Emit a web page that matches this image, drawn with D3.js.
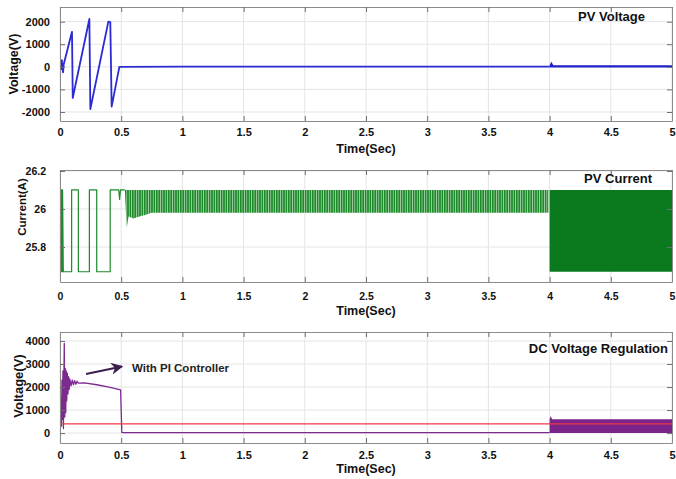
<!DOCTYPE html>
<html>
<head>
<meta charset="utf-8">
<script src="https://cdn.jsdelivr.net/npm/d3@7"></script>
<style>
  body { margin: 0; background: #fff; }
  svg { font-family: "Liberation Sans", Arial, sans-serif; font-weight: bold; }
</style>
</head>
<body>
<div id="chart"></div>
<script>
// shared time axis
var timeTicks = [0, 0.5, 1, 1.5, 2, 2.5, 3, 3.5, 4, 4.5, 5];

// PV voltage
var pvVoltTicks = [-2000, -1000, 0, 1000, 2000];
var pvVoltTime  = [0, 0.005, 0.01, 0.015, 0.02, 0.025, 0.03, 0.098, 0.104, 0.24, 0.248, 0.395, 0.411, 0.422, 0.485, 1.0, 2.0, 3.0, 4.0];
var pvVoltValue = [0, 150, -100, 300, -50, -250, 100, 1550, -1380, 2120, -1870, 2000, 1980, -1760, 0, 10, 10, 10, 10];
var pvVoltBandTime = [4.0, 4.015, 4.03, 5.0];
var pvVoltBandLow  = [-30, -30, -30, -30];
var pvVoltBandHigh = [70, 220, 70, 70];

// PV current
var pvCurrTicks = [25.8, 26, 26.2];
var pvCurrTime  = [0, 0.003, 0.006, 0.01, 0.013, 0.018, 0.021, 0.027, 0.095, 0.095, 0.15, 0.15, 0.24, 0.24, 0.30, 0.30, 0.41, 0.41, 0.48, 0.487, 0.494, 0.53];
var pvCurrValue = [26.1, 25.67, 26.1, 25.67, 26.1, 25.67, 26.1, 25.67, 25.67, 26.1, 26.1, 25.67, 25.67, 26.1, 26.1, 25.67, 25.67, 26.1, 26.1, 26.05, 26.1, 26.1];
var pvCurrBandTime = [0.53, 0.545, 0.56, 0.6, 0.65, 0.7, 0.75, 3.99];
var pvCurrBandLow  = [26.1, 25.9, 25.96, 25.95, 25.96, 25.97, 25.98, 25.98];
var pvCurrBandHigh = [26.1, 26.1, 26.1, 26.1, 26.1, 26.1, 26.1, 26.1];
var pvCurrBlockTime = [4.0, 5.0];
var pvCurrBlockLow  = [25.67, 25.67];
var pvCurrBlockHigh = [26.1, 26.1];

// DC link voltage
var dcVoltTicks = [0, 1000, 2000, 3000, 4000];
var dcTime  = [0, 0.004, 0.008, 0.012, 0.016, 0.02, 0.024, 0.028, 0.032, 0.035, 0.039, 0.043, 0.047, 0.051, 0.055, 0.06, 0.065, 0.07, 0.075, 0.08, 0.09, 0.1, 0.11, 0.12, 0.13, 0.14, 0.15, 0.2, 0.3, 0.4, 0.495, 0.505, 0.52, 4.0];
var dcValue = [0, 400, 1500, 300, 2300, 600, 2700, 200, 2500, 3900, 700, 2800, 900, 2700, 1400, 2600, 1700, 2450, 1900, 2350, 2050, 2300, 2100, 2280, 2120, 2250, 2170, 2180, 2100, 2000, 1880, 30, 20, 20];
var dcBandTime = [4.0, 4.01, 4.02, 5.0];
var dcBandLow  = [0, 0, 0, 0];
var dcBandHigh = [600, 740, 600, 600];
var dcRefTime  = [0, 5];
var dcRefValue = [400, 400];

var width = 676;
var height = 479;
var left = 60;
var right = 672;

var svg = d3.select("#chart")
    .append("svg")
    .attr("width", width)
    .attr("height", height);

var defs = svg.append("defs");

// vertical hatching for the dense ripple region
var hatch = defs.append("pattern")
    .attr("id", "hatch")
    .attr("patternUnits", "userSpaceOnUse")
    .attr("width", 2.4)
    .attr("height", 10);
hatch.append("rect").attr("width", 2.4).attr("height", 10).attr("fill", "#a8d4a8");
hatch.append("rect").attr("width", 1.6).attr("height", 10).attr("fill", "#1d8a2c");

var x = d3.scaleLinear().domain([0, 5]).range([left, right]);

function zip(t, v) {
    return t.map(function (d, i) { return [d, v[i]]; });
}
function zip3(t, lo, hi) {
    return t.map(function (d, i) { return [d, lo[i], hi[i]]; });
}

function drawPanel(p) {
    var y = d3.scaleLinear().domain(p.domain).range([p.bottom, p.top]);
    var g = svg.append("g");

    defs.append("clipPath").attr("id", "clip" + p.id)
        .append("rect")
        .attr("x", left).attr("y", p.top)
        .attr("width", right - left).attr("height", p.bottom - p.top);

    // grid
    g.selectAll(".vgrid").data(timeTicks).enter().append("line")
        .attr("x1", x).attr("x2", x)
        .attr("y1", p.top).attr("y2", p.bottom)
        .attr("stroke", "#e4e4e4").attr("stroke-width", 1);
    g.selectAll(".hgrid").data(p.ticks).enter().append("line")
        .attr("x1", left).attr("x2", right)
        .attr("y1", y).attr("y2", y)
        .attr("stroke", "#e4e4e4").attr("stroke-width", 1);

    var plot = g.append("g").attr("clip-path", "url(#clip" + p.id + ")");
    p.draw(plot, y);

    // axes with inward ticks (box style)
    var fmt = function (d) { return String(d); };
    var xb = g.append("g")
        .attr("transform", "translate(0," + p.bottom + ")")
        .call(d3.axisBottom(x).tickValues(timeTicks).tickFormat(fmt)
            .tickSizeInner(-5).tickSizeOuter(0).tickPadding(p.xPad));
    var xt = g.append("g")
        .attr("transform", "translate(0," + p.top + ")")
        .call(d3.axisTop(x).tickValues(timeTicks).tickFormat("")
            .tickSizeInner(-5).tickSizeOuter(0));
    var yl = g.append("g")
        .attr("transform", "translate(" + left + ",0)")
        .call(d3.axisLeft(y).tickValues(p.ticks).tickFormat(fmt)
            .tickSizeInner(-5).tickSizeOuter(0).tickPadding(p.yPad));
    var yr = g.append("g")
        .attr("transform", "translate(" + right + ",0)")
        .call(d3.axisRight(y).tickValues(p.ticks).tickFormat("")
            .tickSizeInner(-5).tickSizeOuter(0));
    [xb, xt, yl, yr].forEach(function (a) {
        a.select(".domain").attr("stroke", "#8c8c8c");
        a.selectAll(".tick line").attr("stroke", "#6e6e6e");
        a.selectAll("text")
            .attr("fill", "#111")
            .style("font-size", p.tickFont + "px")
            .style("font-family", "'Liberation Sans', Arial, sans-serif")
            .style("font-weight", "bold");
    });

    // labels
    g.append("text")
        .attr("x", (left + right) / 2)
        .attr("y", p.timeY)
        .attr("text-anchor", "middle")
        .style("font-size", "12.5px")
        .attr("fill", "#111")
        .text("Time(Sec)");

    g.append("text")
        .attr("transform", "translate(" + p.labelX + "," + p.labelY + ") rotate(-90)")
        .attr("text-anchor", "middle")
        .style("font-size", p.labelFont + "px")
        .attr("fill", "#111")
        .text(p.label);

    g.append("text")
        .attr("x", p.titleX)
        .attr("y", p.titleY)
        .attr("text-anchor", "end")
        .style("font-size", "13px")
        .attr("fill", "#111")
        .text(p.title);
}

function band(plot, y, rows, fill) {
    plot.append("path")
        .datum(rows)
        .attr("fill", fill)
        .attr("d", d3.area()
            .x(function (d) { return x(d[0]); })
            .y0(function (d) { return y(d[1]); })
            .y1(function (d) { return y(d[2]); }));
}
function trace(plot, y, rows, color, w) {
    plot.append("path")
        .datum(rows)
        .attr("fill", "none")
        .attr("stroke", color)
        .attr("stroke-width", w)
        .attr("stroke-linejoin", "round")
        .attr("d", d3.line()
            .x(function (d) { return x(d[0]); })
            .y(function (d) { return y(d[1]); }));
}

drawPanel({
    id: 1, top: 7, bottom: 121, domain: [-2400, 2650], ticks: pvVoltTicks,
    xPad: 7.5, yPad: 10, tickFont: 11, timeY: 153,
    label: "Voltage(V)", labelX: 18, labelY: 64, labelFont: 12.5,
    title: "PV Voltage", titleX: 645, titleY: 21,
    draw: function (plot, y) {
        trace(plot, y, zip(pvVoltTime, pvVoltValue), "#2b2bd4", 1.8);
        band(plot, y, zip3(pvVoltBandTime, pvVoltBandLow, pvVoltBandHigh), "#2020c8");
    }
});

drawPanel({
    id: 2, top: 170, bottom: 282, domain: [25.616, 26.205], ticks: pvCurrTicks,
    xPad: 11, yPad: 14, tickFont: 10.5, timeY: 315,
    label: "Current(A)", labelX: 26, labelY: 207, labelFont: 11.5,
    title: "PV Current", titleX: 652, titleY: 183,
    draw: function (plot, y) {
        trace(plot, y, zip(pvCurrTime, pvCurrValue), "#1d8a2c", 1.2);
        band(plot, y, zip3(pvCurrBandTime, pvCurrBandLow, pvCurrBandHigh), "url(#hatch)");
        band(plot, y, zip3(pvCurrBlockTime, pvCurrBlockLow, pvCurrBlockHigh), "#0b7a1f");
    }
});

drawPanel({
    id: 3, top: 332, bottom: 443, domain: [-430, 4390], ticks: dcVoltTicks,
    xPad: 8.5, yPad: 10, tickFont: 11, timeY: 473,
    label: "Voltage(V)", labelX: 23, labelY: 386, labelFont: 13,
    title: "DC Voltage Regulation", titleX: 668, titleY: 353,
    draw: function (plot, y) {
        trace(plot, y, zip(dcTime, dcValue), "#7d2a90", 1.3);
        band(plot, y, zip3(dcBandTime, dcBandLow, dcBandHigh), "#7a2389");
        trace(plot, y, zip(dcRefTime, dcRefValue), "#ec3a48", 1.4);
    }
});

// annotation
defs.append("marker")
    .attr("id", "arrow")
    .attr("viewBox", "0 0 10 10")
    .attr("refX", 9).attr("refY", 5)
    .attr("markerWidth", 6).attr("markerHeight", 6)
    .attr("orient", "auto")
    .append("path")
    .attr("d", "M0,0 L10,5 L0,10 L3,5 Z")
    .attr("fill", "#3b1f4e");

svg.append("line")
    .attr("x1", 86).attr("y1", 374)
    .attr("x2", 122).attr("y2", 366.5)
    .attr("stroke", "#3b1f4e")
    .attr("stroke-width", 2)
    .attr("marker-end", "url(#arrow)");

svg.append("text")
    .attr("x", 132)
    .attr("y", 372)
    .style("font-size", "11.5px")
    .attr("fill", "#222")
    .text("With PI Controller");
</script>
</body>
</html>
